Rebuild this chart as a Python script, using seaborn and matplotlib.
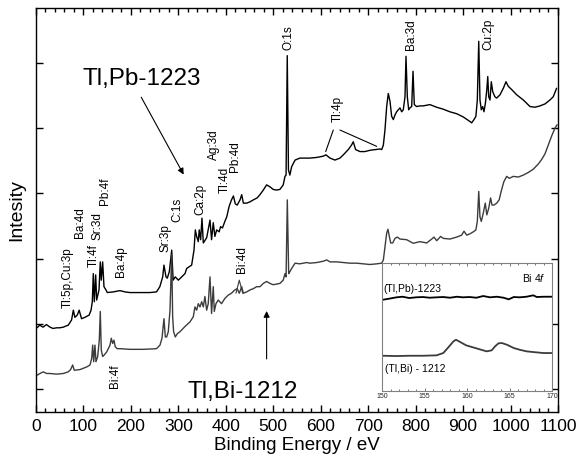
import matplotlib
matplotlib.use("Agg")
import matplotlib.pyplot as plt
import seaborn as sns
import pandas as pd
from matplotlib.ticker import MultipleLocator

# ---------------- data ----------------
# Tl,Pb-1223 survey spectrum: binding energy (eV) and intensity (a.u.)
pb_energy = [2, 8, 15, 22, 29.5, 36, 43.6, 50, 57.6, 64, 68, 75, 78.7, 82, 87, 91, 96, 103, 112, 116,
             118.7, 120.8, 122.9, 125.8, 127.9, 132.8, 135.5, 137.6, 140.5, 143.3, 147.5, 150.3, 163, 177,
             187.5, 198, 212, 226, 240, 254, 261, 267, 269.7, 274, 276.7, 281, 286, 289, 293.5, 300, 307,
             314, 317.6, 328, 333, 335.8, 338.6, 342, 344, 347, 349.8, 352.6, 359.7, 366.7, 370, 373.6,
             377, 380.8, 386, 389, 393, 398, 402, 407, 412, 416, 420, 424, 430, 433.5, 437, 444, 451, 458,
             466, 472, 479, 486, 493, 500, 507, 514, 521, 524.7, 527, 529.5, 532, 535, 538.8, 546, 556,
             570, 577, 591.5, 605.5, 611, 619.6, 630, 640.6, 647.6, 658, 665, 668.6, 673.6, 682.8, 693,
             704, 714, 725, 728.5, 732, 735.4, 739, 742.4, 746, 749.5, 753, 756.5, 760, 763.5, 767, 770.6,
             774, 777.6, 779.7, 782.5, 785.4, 788, 791.7, 794.5, 797.2, 802, 809, 816, 830, 844, 858, 872,
             886.6, 900.5, 914.6, 918, 923, 927, 930, 933, 935.6, 938.4, 941.3, 944, 947, 950, 952, 954,
             956.7, 959.5, 962.4, 967, 970.8, 977.8, 984.8, 990.4, 995.3, 1002.4, 1013, 1027, 1041,
             1051.6, 1062, 1072.6, 1083, 1090, 1097]
pb_counts = [9.4, 9.8, 9.5, 9.9, 9.5, 9.3, 9.4, 9.4, 9.5, 9.7, 9.8, 10.6, 12.1, 11.0, 11.35, 12.1, 10.8, 11.0,
             11.35, 12.1, 13.4, 17.7, 13.4, 17.5, 13.65, 15.2, 19.5, 16.7, 19.5, 15.7, 15.2, 14.8, 14.9,
             15.1, 14.9, 14.8, 14.8, 14.8, 14.8, 14.9, 15.7, 17.2, 19.0, 17.2, 17.0, 18.0, 21.3, 16.7, 17.2,
             16.7, 17.2, 17.7, 18.5, 19.0, 21.3, 24.4, 23.4, 22.6, 24.4, 22.9, 26.2, 22.4, 23.2, 25.9, 22.9,
             25.5, 23.4, 24.4, 24.1, 24.9, 24.7, 25.7, 26.4, 28.0, 29.0, 29.6, 28.4, 28.2, 29.0, 29.8, 28.5,
             28.5, 28.7, 29.0, 29.3, 29.8, 30.5, 31.3, 31.0, 30.6, 30.5, 30.6, 31.3, 32.6, 32.8, 51.1, 33.6,
             32.8, 34.1, 35.1, 35.4, 35.4, 35.4, 35.5, 35.7, 35.9, 35.4, 35.1, 35.4, 35.9, 36.7, 37.4, 37.9,
             36.7, 36.4, 36.4, 36.6, 36.7, 36.8, 36.7, 37.4, 39.7, 43.3, 45.3, 44.1, 41.8, 41.3, 42.0, 42.5,
             42.8, 43.1, 42.5, 42.8, 44.8, 51.0, 44.8, 42.8, 43.1, 43.3, 48.7, 43.6, 43.3, 43.4, 43.4, 43.6,
             43.2, 42.9, 42.5, 42.2, 41.7, 41.0, 40.8, 41.3, 41.8, 44.3, 53.3, 44.3, 42.8, 43.3, 42.5, 43.8,
             45.9, 47.9, 44.8, 44.3, 47.1, 45.6, 44.8, 44.6, 45.1, 46.1, 47.1, 46.4, 45.9, 45.1, 44.3, 43.3,
             43.2, 43.4, 43.7, 44.3, 44.8, 46.1]

# Tl,Bi-1212 survey spectrum
bi_energy = [2.7, 8.4, 15.4, 22.5, 29.5, 43.6, 57.6, 68, 73, 77.3, 80.7, 92.7, 106.8, 113.8, 117.4, 119.5,
             121.6, 124.3, 126.4, 130, 133.4, 135.5, 137.6, 140.5, 143.3, 149, 156, 158.7, 161.6, 164.4,
             167, 171.3, 177, 198, 226, 254, 261.3, 265.5, 269.7, 272.5, 275.4, 278.8, 282.4, 286, 288,
             290, 293.6, 297.8, 303.4, 314, 324.5, 331.5, 335, 338.6, 342, 345.6, 349.2, 352.6, 356, 359.7,
             363, 366.7, 370, 373.6, 375.7, 379.3, 384, 391, 398, 405, 412, 419, 424, 428.4, 433.5, 437,
             444, 451, 458, 465, 472, 479, 486, 493, 500, 507, 514, 521, 524.7, 527, 529.6, 532.5, 535,
             538.8, 546, 556, 570, 577.4, 591.5, 605.5, 612.6, 619.6, 633.6, 647.6, 661.7, 675.8, 689.7,
             703.8, 718, 728.5, 732, 735.4, 739, 741.7, 744.6, 747.5, 751.7, 756.5, 761.4, 767, 781, 795,
             809, 823.3, 834, 838.7, 844.4, 852.8, 858.3, 872.4, 886.6, 897, 902, 907.6, 914.6, 921.5, 927,
             930, 933, 935.6, 938.4, 942.6, 946.8, 950, 954, 958, 961, 965, 970.8, 976, 981, 986, 991.9,
             997.4, 1005.8, 1016.4, 1027, 1037.4, 1048, 1058.5, 1065.7, 1072.6, 1079.6, 1086.7, 1093.7, 1098]
bi_counts = [2.15, 2.4, 2.65, 2.4, 2.4, 2.3, 2.4, 2.65, 3.0, 3.7, 2.9, 3.0, 3.4, 3.7, 4.7, 6.75, 4.2, 6.75,
             4.2, 5.0, 7.5, 11.9, 6.0, 5.0, 5.2, 5.7, 6.75, 7.8, 7.0, 7.5, 6.5, 6.2, 6.2, 6.1, 6.1, 6.2, 6.75,
             7.8, 10.8, 8.0, 8.0, 8.8, 12.1, 20.6, 11.1, 8.8, 8.0, 8.5, 8.8, 9.6, 10.3, 11.1, 12.6, 12.1,
             13.1, 12.6, 13.4, 12.6, 14.2, 12.1, 13.1, 17.2, 11.6, 15.7, 11.9, 13.1, 13.65, 13.1, 13.9, 14.4,
             14.7, 15.2, 15.4, 14.7, 15.7, 14.7, 14.9, 15.2, 15.4, 15.7, 15.7, 16.2, 16.5, 16.2, 16.0, 16.1,
             16.2, 16.7, 17.7, 17.2, 29.0, 17.7, 18.0, 18.5, 19.3, 19.2, 19.4, 19.3, 19.4, 19.6, 19.8, 19.5,
             19.5, 19.4, 19.3, 19.3, 19.2, 19.1, 19.2, 19.3, 19.8, 21.8, 23.9, 24.5, 23.4, 22.4, 22.4, 23.1,
             23.3, 23.0, 22.9, 22.35, 22.6, 22.4, 23.0, 23.3, 22.75, 23.4, 23.1, 23.0, 23.3, 23.6, 24.2, 23.6,
             23.8, 24.1, 24.4, 25.7, 30.3, 26.4, 25.7, 27.0, 28.5, 26.7, 27.7, 29.3, 28.2, 28.2, 28.5, 29.0,
             30.5, 31.8, 32.6, 32.3, 32.6, 32.5, 32.8, 33.2, 33.7, 34.5, 35.2, 36.05, 37.4, 38.8, 40.0, 40.5]

# Inset: Bi 4f region
inset_pb_energy = [150.1, 150.8, 151.7, 152.4, 153.2, 154.0, 154.8, 155.6, 156.4, 157.2, 158.0, 158.8,
                   159.5, 160.3, 161.1, 161.9, 162.7, 163.5, 164.3, 164.9, 165.5, 166.2, 167.0, 167.8,
                   168.2, 169.0, 170.0]
inset_pb_counts = [91.3, 92.3, 93.7, 94.3, 93.0, 93.7, 94.0, 93.3, 93.7, 94.0, 93.3, 94.3, 93.7, 94.0,
                   93.3, 95.0, 93.7, 94.3, 93.3, 91.7, 94.0, 93.7, 94.3, 95.7, 94.0, 94.3, 94.3]
inset_bi_energy = [150.1, 151.7, 153.2, 154.8, 156.4, 157.2, 157.8, 158.4, 158.7, 159.2, 159.9, 160.7,
                   161.5, 162.3, 162.9, 163.3, 163.7, 164.1, 164.7, 165.5, 166.2, 167.0, 167.8, 169.0, 170.0]
inset_bi_counts = [35.3, 35.0, 35.3, 35.3, 35.7, 38.0, 43.7, 49.7, 51.3, 49.0, 45.7, 43.7, 41.7, 39.7,
                   40.7, 44.7, 47.7, 48.0, 46.3, 43.0, 41.3, 39.7, 39.0, 38.0, 38.0]

x_ticks = [0, 100, 200, 300, 400, 500, 600, 700, 800, 900, 1000, 1100]
inset_ticks = [150, 155, 160, 165, 170]

# peak labels (text, energy, intensity of label bottom)
peak_labels = [("Tl:5p,Cu:3p", 67, 12.4), ("Ba:4d", 92.7, 23.2), ("Tl:4f", 122, 18.7),
               ("Sr:3d", 130.6, 22.9), ("Pb:4f", 145, 28.2), ("Ba:4p", 180, 17.2),
               ("Sr:3p", 272, 21.0), ("C:1s", 297, 25.6), ("Ca:2p", 345.6, 26.7),
               ("Ag:3d", 375, 35.1), ("Tl:4d", 398, 30.1), ("Pb:4d", 419, 33.3),
               ("Bi:4d", 434, 17.8), ("Bi:4f", 167.5, 0.2), ("Tl:4p", 636, 41.0),
               ("O:1s", 533, 52.0), ("Ba:3d", 790, 52.0), ("Cu:2p", 953, 52.0)]

# ---------------- figure ----------------
sns.set_theme(style="ticks")
plt.rcParams["font.family"] = ["Liberation Sans", "DejaVu Sans"]
plt.rcParams["mathtext.fontset"] = "custom"
plt.rcParams["mathtext.it"] = "Liberation Sans:italic"
plt.rcParams["mathtext.rm"] = "Liberation Sans"

fig = plt.figure(figsize=(5.86, 4.59), dpi=100)
ax = fig.add_axes([0.0614, 0.1024, 0.8908, 0.8802])

df_pb = pd.DataFrame({"energy": pb_energy, "counts": pb_counts})
df_bi = pd.DataFrame({"energy": bi_energy, "counts": bi_counts})
sns.lineplot(data=df_pb, x="energy", y="counts", ax=ax, color="black", lw=1.0,
             estimator=None, sort=False)
sns.lineplot(data=df_bi, x="energy", y="counts", ax=ax, color="#3c3c3c", lw=1.0,
             estimator=None, sort=False)

ax.set_xlim(0, 1100)
ax.set_ylim(-3.5, 58.4)
ax.set_xticks(x_ticks)
ax.xaxis.set_minor_locator(MultipleLocator(20))
ax.set_yticks([0, 10, 20, 30, 40, 50])
ax.set_yticklabels([])
ax.tick_params(axis="both", which="both", direction="in", top=True, right=True,
               color="black", width=1.0)
ax.tick_params(axis="both", which="major", length=5)
ax.tick_params(axis="both", which="minor", length=3)
ax.tick_params(axis="x", which="major", labelsize=12.5, pad=5, labelcolor="black")
for s in ax.spines.values():
    s.set_color("black")
    s.set_linewidth(1.0)
ax.set_xlabel("Binding Energy / eV", fontsize=13.5, labelpad=2, color="black")
ax.set_ylabel("Intesity", fontsize=14, labelpad=4, color="black")

for txt, xe, yb in peak_labels:
    ax.text(xe, yb, txt, rotation=90, ha="center", va="bottom", fontsize=8.5, color="black")

# leader lines for Tl:4p and Bi:4d
ax.plot([610.5, 626.5], [36.4, 39.7], color="black", lw=0.8)
ax.plot([640.6, 718], [39.7, 37.2], color="black", lw=0.8)
ax.plot([421.5, 428.4, 435.6], [14.7, 16.7, 14.7], color="#3c3c3c", lw=0.8)

ax.text(97, 46.6, "Tl,Pb-1223", fontsize=17.5, ha="left", va="baseline", color="black")
ax.text(320, -1.4, "Tl,Bi-1212", fontsize=17.5, ha="left", va="baseline", color="black")
ax.annotate("", xy=(314, 32.5), xytext=(219, 45.1),
            arrowprops=dict(arrowstyle="-|>", color="black", lw=0.8, mutation_scale=9))
ax.annotate("", xy=(486, 12.4), xytext=(486, 4.2),
            arrowprops=dict(arrowstyle="-|>", color="black", lw=0.8, mutation_scale=9))

# ---------------- inset ----------------
axi = fig.add_axes([0.652, 0.148, 0.290, 0.279])
axi.set_facecolor("white")
sns.lineplot(x=inset_pb_energy, y=inset_pb_counts, ax=axi, color="black", lw=1.3,
             estimator=None, sort=False)
sns.lineplot(x=inset_bi_energy, y=inset_bi_counts, ax=axi, color="#3c3c3c", lw=1.3,
             estimator=None, sort=False)
axi.set_xlim(150, 170)
axi.set_ylim(0, 128)
axi.set_xticks(inset_ticks)
axi.xaxis.set_minor_locator(MultipleLocator(1))
axi.set_yticks([])
axi.set_xlabel("")
axi.set_ylabel("")
axi.tick_params(axis="x", which="both", direction="in", top=True, color="#606060",
                labelsize=5, pad=1.5, width=0.6)
axi.tick_params(axis="x", which="major", length=2.5)
axi.tick_params(axis="x", which="minor", length=1.2)
for s in axi.spines.values():
    s.set_color("#808080")
    s.set_linewidth(0.8)
axi.text(0.965, 0.883, "Bi 4$\\it{f}$", transform=axi.transAxes, ha="right", va="center",
         fontsize=7.5, color="black")
axi.text(0.005, 0.797, "(Tl,Pb)-1223", transform=axi.transAxes, ha="left", va="center",
         fontsize=7.5, color="black")
axi.text(0.018, 0.17, "(Tl,Bi) - 1212", transform=axi.transAxes, ha="left", va="center",
         fontsize=7.5, color="black")

fig.savefig("out.png", dpi=100, facecolor="white")
